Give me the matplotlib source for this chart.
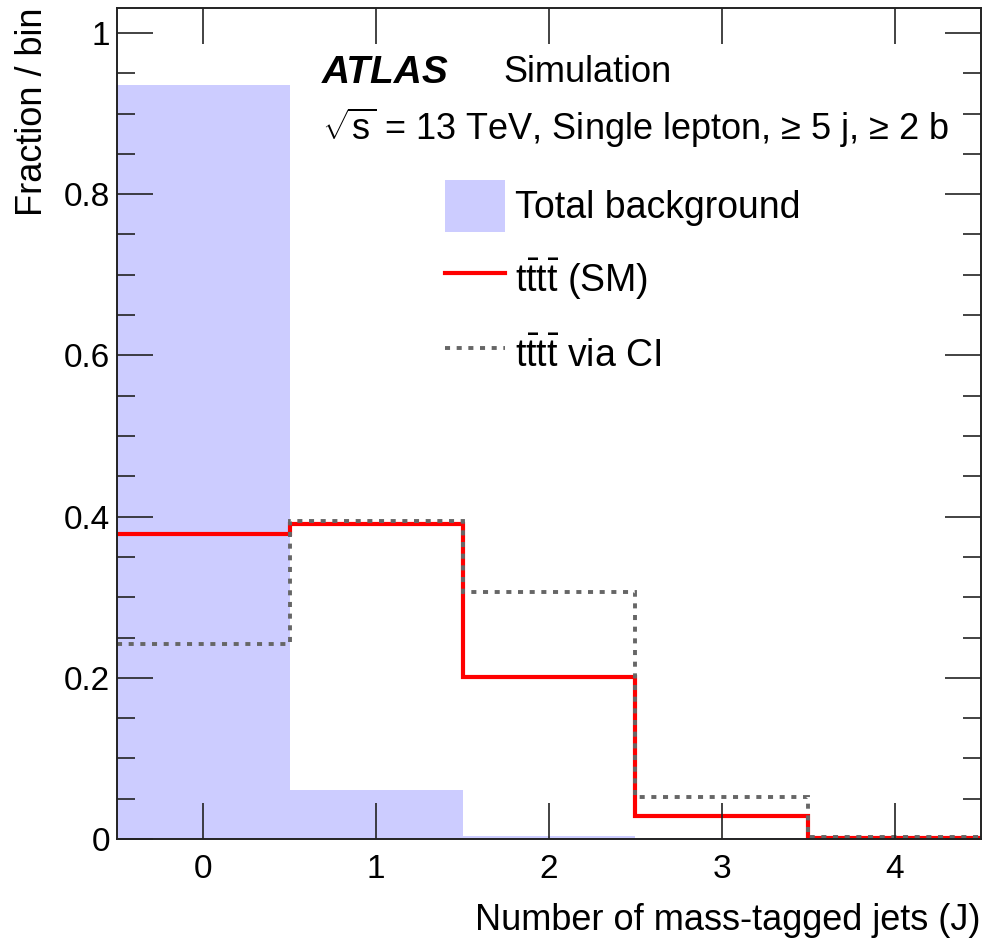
import matplotlib
matplotlib.use("Agg")
import matplotlib.pyplot as plt
import numpy as np
from matplotlib.patches import Patch
from matplotlib.lines import Line2D
from matplotlib.ticker import MultipleLocator, FuncFormatter

plt.rcParams["font.family"] = ["Liberation Sans", "DejaVu Sans"]
plt.rcParams["mathtext.fontset"] = "custom"
plt.rcParams["mathtext.rm"] = "Liberation Sans"
plt.rcParams["mathtext.it"] = "Liberation Sans:italic"
plt.rcParams["mathtext.bf"] = "Liberation Sans:bold"

# bin edges for the number of mass-tagged jets
edges = np.array([-0.5, 0.5, 1.5, 2.5, 3.5, 4.5])
bkg = [0.936, 0.061, 0.004, 0.0015, 0.0]
sm = [0.378, 0.391, 0.201, 0.0285, 0.001]
ci = [0.242, 0.395, 0.306, 0.052, 0.002]

bkg_color = "#ccccff"
sm_color = "#ff0000"
ci_color = "#666666"
ci_dash = (0, (1.3, 1.7))

fig = plt.figure(figsize=(9.88, 9.47), dpi=100)
ax = fig.add_axes([0.1184, 0.114, 0.8745, 0.8776])

ax.stairs(bkg, edges, fill=True, color=bkg_color, linewidth=0)
ax.stairs(sm, edges, baseline=None, color=sm_color, linewidth=3.0)
ax.stairs(ci, edges, baseline=None, color=ci_color, linewidth=2.8,
          linestyle=ci_dash)

ax.set_xlim(-0.5, 4.5)
ax.set_ylim(0, 1.031)

ax.xaxis.set_major_locator(MultipleLocator(1))
ax.yaxis.set_major_locator(MultipleLocator(0.2))
ax.yaxis.set_minor_locator(MultipleLocator(0.05))
ax.yaxis.set_major_formatter(FuncFormatter(lambda v, p: f"{v:g}"))

ax.tick_params(which="both", direction="in", top=True, right=True,
               labelsize=24, width=1.2, color="#222222")
ax.tick_params(which="major", length=26)
ax.tick_params(which="minor", length=13)
ax.tick_params(axis="x", pad=11)
ax.tick_params(axis="y", pad=5)
for s in ax.spines.values():
    s.set_linewidth(1.4)
    s.set_color("#222222")

ax.set_ylabel("Fraction / bin", fontsize=26, loc="top", labelpad=10)
ax.set_xlabel("Number of mass-tagged jets (J)", fontsize=26, loc="right",
              labelpad=13)

ax.text(0.237, 0.922, "ATLAS", transform=ax.transAxes, fontsize=28,
        fontweight="bold", fontstyle="italic", va="center")
ax.text(0.447, 0.922, "Simulation", transform=ax.transAxes, fontsize=26,
        va="center")
ax.text(0.237, 0.856,
        r"$\sqrt{\mathrm{s}}$ = 13 TeV, Single lepton, ≥ 5 j, ≥ 2 b",
        transform=ax.transAxes, fontsize=26, va="center")

handles = [
    Patch(facecolor=bkg_color, edgecolor="none"),
    Line2D([], [], color=sm_color, linewidth=3.0),
    Line2D([], [], color=ci_color, linewidth=2.8, linestyle=ci_dash),
]
labels = [
    "Total background",
    r"$\mathrm{t\bar{t}t\bar{t}}$ (SM)",
    r"$\mathrm{t\bar{t}t\bar{t}}$ via CI",
]
ax.legend(handles, labels, loc="upper left", bbox_to_anchor=(0.38, 0.793),
          frameon=False, fontsize=27, handlelength=1.6, handleheight=1.75,
          handletextpad=0.27, labelspacing=0.6, borderpad=0,
          borderaxespad=0)

fig.savefig("out.png", dpi=100)
